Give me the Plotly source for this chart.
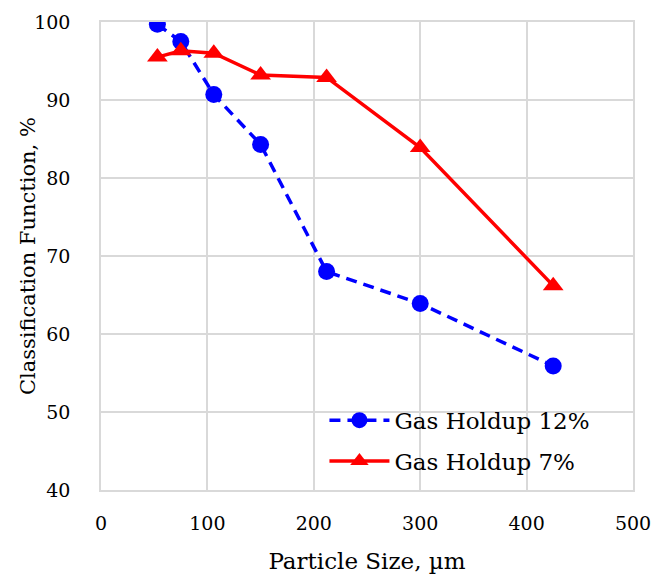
import plotly.graph_objects as go

particle_size = [53, 75, 106, 150, 212, 300, 425]
holdup_12 = [99.7, 97.5, 90.7, 84.3, 68.0, 63.9, 55.9]
holdup_7 = [95.5, 96.3, 96.0, 93.2, 92.9, 83.9, 66.2]
series_names = ["Gas Holdup 12%", "Gas Holdup 7%"]
x_title = "Particle Size, µm"
y_title = "Classification Function, %"

FONT = "DejaVu Serif"

fig = go.Figure()
fig.add_trace(go.Scatter(
    x=particle_size, y=holdup_12, name=series_names[0], mode="lines+markers",
    legendgroup="a",
    line=dict(color="#0000ff", width=3.5, dash="11px,7px"),
    marker=dict(symbol="circle", size=17, color="#0000ff"),
))
fig.add_trace(go.Scatter(
    x=particle_size, y=holdup_7, name=series_names[1], mode="lines+markers",
    legendgroup="b",
    line=dict(color="#ff0000", width=3.5),
    marker=dict(symbol="triangle-up", size=18, color="#ff0000"),
))

axis_common = dict(
    showgrid=True, gridcolor="#d9d9d9", gridwidth=1.5,
    showline=True, linecolor="#d9d9d9", linewidth=1.5, mirror=True,
    zeroline=False, ticks="", automargin=False, ticklabeloverflow="allow",
    tickfont=dict(family=FONT, size=19, color="#000"),
)

fig.update_xaxes(range=[0, 500], dtick=100, tick0=0,
                 title=dict(text=x_title, font=dict(family=FONT, size=23, color="#000"), standoff=20),
                 ticklabelstandoff=15, **axis_common)
fig.update_yaxes(range=[40, 100], dtick=10, tick0=40,
                 ticklabelstandoff=25, **axis_common)

fig.add_annotation(
    text=y_title, textangle=-90, xref="paper", yref="paper",
    x=0, y=0.5, xanchor="center", yanchor="middle", xshift=-73,
    showarrow=False, font=dict(family=FONT, size=21, color="#000"),
)

fig.update_layout(
    width=652, height=579,
    margin=dict(l=101, r=19, t=22, b=89),
    paper_bgcolor="white", plot_bgcolor="white",
    font=dict(family=FONT, size=21, color="#000"),
    legend=dict(x=0.42, y=0.195, xanchor="left", yanchor="top",
                bgcolor="rgba(255,255,255,0)", font=dict(family=FONT, size=23, color="#000"),
                tracegroupgap=8, itemwidth=60),
    showlegend=True,
)

fig.write_html(
    "out.html",
    config={"displayModeBar": False},
    post_script="document.body.style.margin='0';document.body.style.padding='0';document.body.style.overflow='hidden';",
)
